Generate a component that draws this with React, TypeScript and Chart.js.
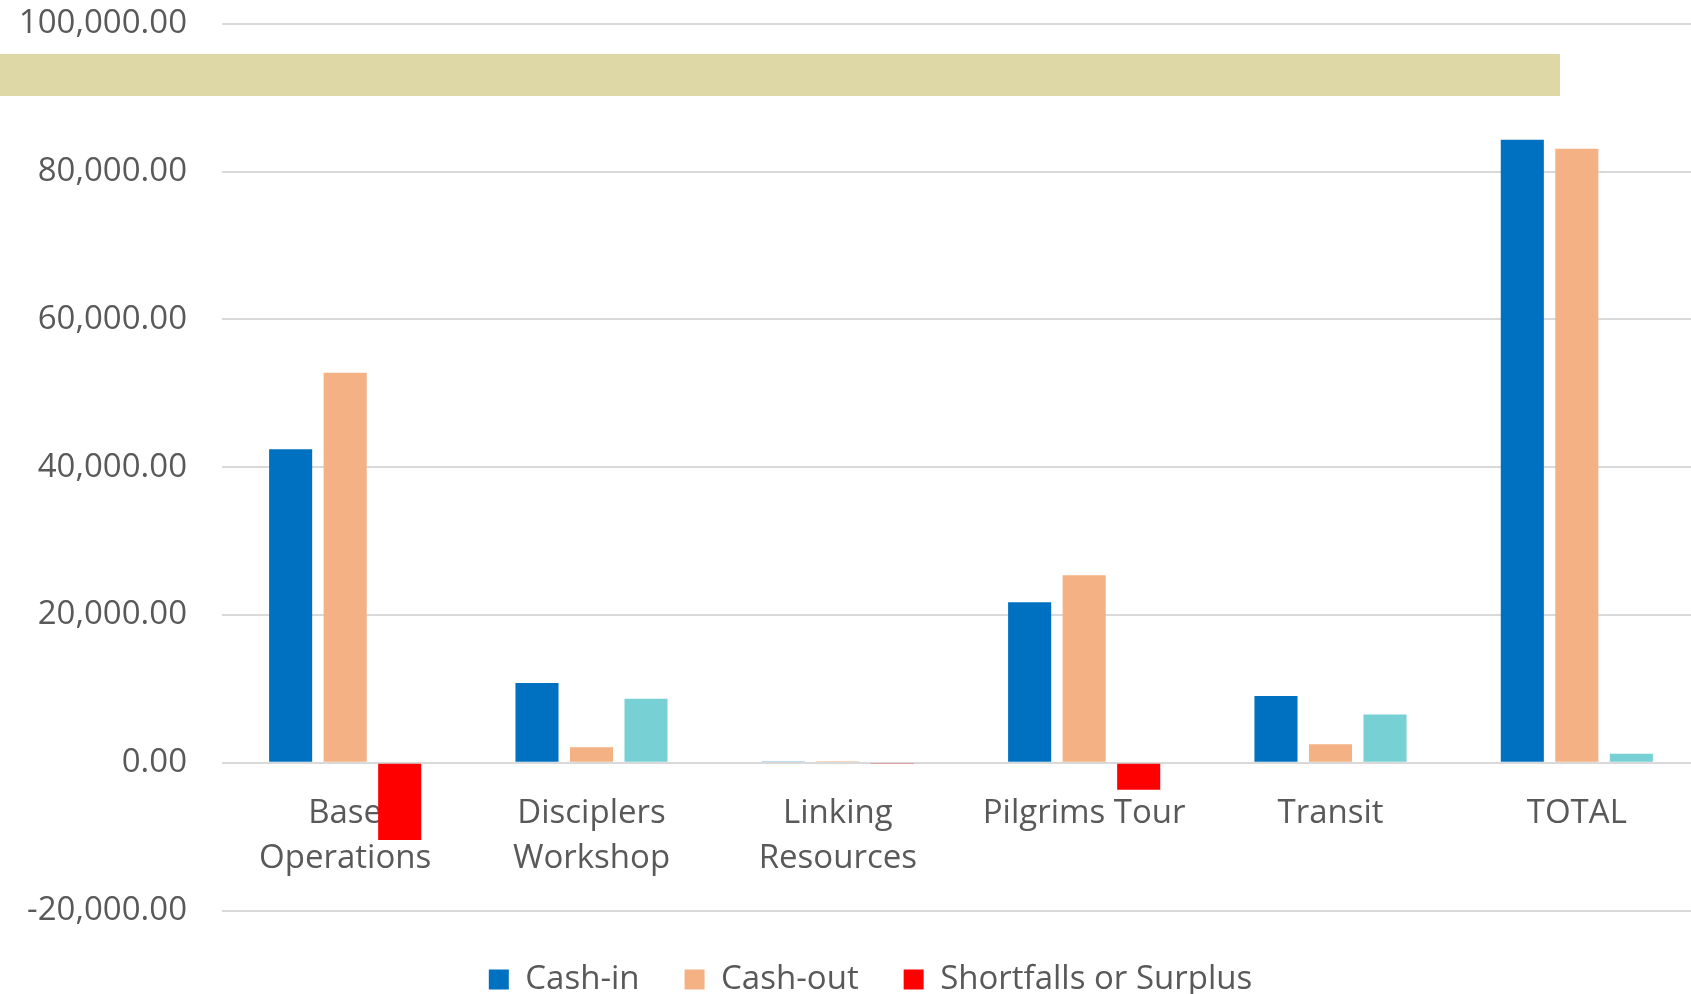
import React, { useEffect, useRef } from "react";
import { Chart, registerables } from "chart.js";

Chart.register(...registerables);

const categories: (string | string[])[] = [
  ["Base", "Operations"],
  ["Disciplers", "Workshop"],
  ["Linking", "Resources"],
  "Pilgrims Tour",
  "Transit",
  "TOTAL",
];
const cashIn = [42420, 10780, 100, 21720, 9030, 84300];
const cashOut = [52780, 2110, 200, 25380, 2500, 83100];
const shortfallSurplus = [-10450, 8660, -100, -3660, 6520, 1230];
const yMin = -20000;
const yMax = 100000;
const yStep = 20000;

const FONT = "'Open Sans', 'Liberation Sans', sans-serif";
const TEXT = "#595959";
const SHIFT = 31;

const legendShift = {
  id: "legendShift",
  afterLayout(chart: any) {
    if (chart.legend) {
      chart.legend.left += 41;
    }
  },
};

export default function App() {
  const ref = useRef<HTMLCanvasElement | null>(null);

  useEffect(() => {
    if (!ref.current) return;
    const chart = new Chart(ref.current, {
      type: "bar",
      data: {
        labels: categories,
        datasets: [
          { label: "Cash-in", data: cashIn, backgroundColor: "#0070C0" },
          { label: "Cash-out", data: cashOut, backgroundColor: "#F4B183" },
          {
            label: "Shortfalls or Surplus",
            data: shortfallSurplus,
            backgroundColor: (ctx: any) =>
              ctx.type === "data" && ctx.raw >= 0 ? "#77D1D4" : "#FF0000",
          },
        ],
      },
      plugins: [legendShift],
      options: {
        animation: false,
        responsive: false,
        maintainAspectRatio: false,
        datasets: {
          bar: { categoryPercentage: 0.664, barPercentage: 0.79 },
        },
        layout: { padding: { top: 23, left: 0, right: 0, bottom: 0 } },
        plugins: {
          tooltip: { enabled: false },
          legend: {
            position: "bottom",
            title: {
              display: true,
              text: "",
              font: { family: FONT, size: 1 },
              padding: { top: 6.3, bottom: 0 },
            },
            labels: {
              boxWidth: 20,
              boxHeight: 20,
              padding: 45,
              color: TEXT,
              font: { family: FONT, size: 33 },
            },
          },
        },
        scales: {
          x: {
            type: "category",
            position: { y: 0 } as any,
            grid: { display: false, drawTicks: false },
            border: { display: false },
            ticks: {
              color: TEXT,
              font: { family: FONT, size: 33, lineHeight: 1.364 },
              padding: 28.5,
              maxRotation: 0,
              autoSkip: false,
            },
          },
          y: {
            min: yMin,
            max: yMax,
            afterFit: (scale: any) => {
              scale.width = 222;
            },
            grid: { color: "#D9D9D9", lineWidth: 2, drawTicks: false },
            border: { display: false },
            ticks: {
              stepSize: yStep,
              padding: 35,
              color: TEXT,
              font: { family: FONT, size: 33 },
              callback: (v: any) =>
                Number(v).toLocaleString("en-US", {
                  minimumFractionDigits: 2,
                  maximumFractionDigits: 2,
                }),
            },
          },
        },
      },
    });
    return () => chart.destroy();
  }, []);

  return (
    <div
      style={{
        position: "absolute",
        left: 0,
        top: 0,
        width: 1691,
        height: 994,
        overflow: "hidden",
        background: "#fff",
      }}
    >
      <canvas
        ref={ref}
        width={1700}
        height={1006 + SHIFT}
        style={{ display: "block", position: "absolute", left: 0, top: -SHIFT }}
      />
      <div
        style={{
          position: "absolute",
          left: 0,
          top: 54,
          width: 1560,
          height: 42,
          background: "#DDD8A5",
        }}
      />
    </div>
  );
}
